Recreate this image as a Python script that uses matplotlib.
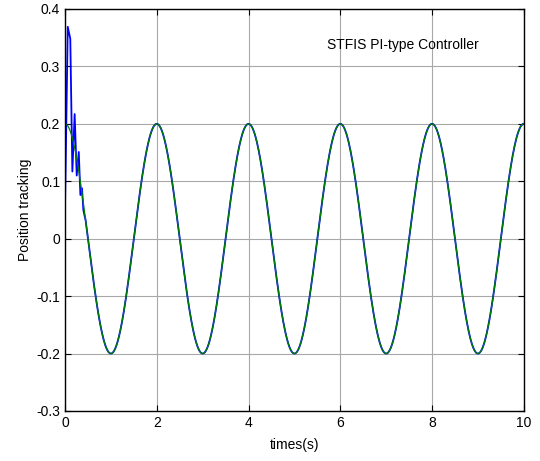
import numpy as np
import matplotlib
matplotlib.use("Agg")
import matplotlib.pyplot as plt

plt.rcParams['font.family'] = ['Liberation Sans', 'DejaVu Sans']
plt.rcParams['font.size'] = 10

# reference trajectory: 0.2*cos(pi*t), peaks at 0,2,4,...
refAmplitude = 0.2
refPeriod = 2.0
tEnd = 10.0

# blue (actual) transient points at the start, after that it sits on the reference
transientT = [0.0, 0.06, 0.115, 0.16, 0.21, 0.255, 0.30, 0.335, 0.37, 0.40, 0.44]
transientY = [0.055, 0.369, 0.348, 0.117, 0.217, 0.110, 0.151, 0.076, 0.088, 0.050, 0.035]

xticks = [0, 2, 4, 6, 8, 10]
yticks = [-0.3, -0.2, -0.1, 0, 0.1, 0.2, 0.3, 0.4]
ytickLabels = ['-0.3', '-0.2', '-0.1', '0', '0.1', '0.2', '0.3', '0.4']

t = np.linspace(0, tEnd, 2001)
ref = refAmplitude * np.cos(2 * np.pi * t / refPeriod)

tAfter = t[t > transientT[-1]]
actualT = np.concatenate([transientT, tAfter])
actualY = np.concatenate([transientY, refAmplitude * np.cos(2 * np.pi * tAfter / refPeriod)])

fig = plt.figure(figsize=(5.4, 4.61), dpi=100)
ax = fig.add_axes([0.1204, 0.1085, 0.8496, 0.872])

ax.plot(actualT, actualY, color=(0, 0, 1), linewidth=1.3)
ax.plot(t, ref, color=(0, 0.5, 0), linewidth=0.9)

ax.set_xlim(0, 10)
ax.set_ylim(-0.3, 0.4)
ax.set_xticks(xticks)
ax.set_yticks(yticks)
ax.set_yticklabels(ytickLabels)
ax.grid(True, color='#a8a8a8', linewidth=0.8)
ax.tick_params(direction='in', top=True, right=True, length=4)
for s in ax.spines.values():
    s.set_linewidth(1.0)

ax.text(7.36, 0.337, 'STFIS PI-type Controller', ha='center', va='center')
ax.set_xlabel('times(s)', labelpad=6)
ax.set_ylabel('Position tracking', labelpad=3)

fig.savefig('out.png', dpi=100)
